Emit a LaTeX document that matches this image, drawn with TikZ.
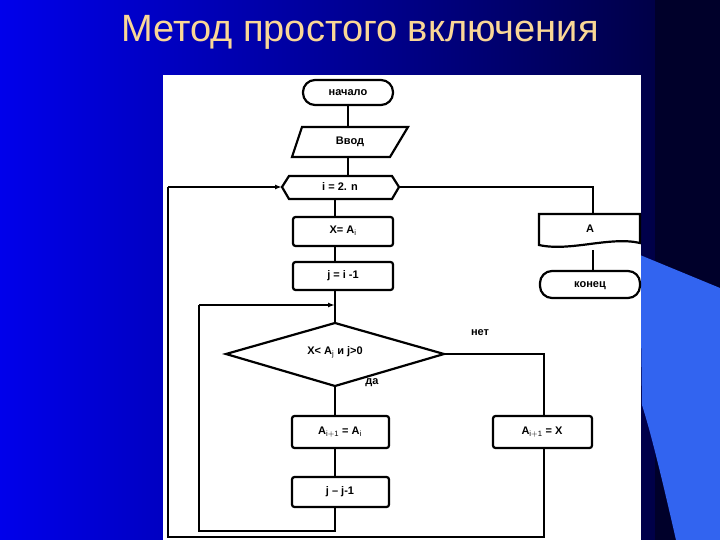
\documentclass[tikz,border=0pt]{standalone}
\usepackage{fontspec}
\setmainfont{Liberation Sans}
\usetikzlibrary{shapes.geometric,shapes.symbols,arrows.meta}
\definecolor{slideblue}{RGB}{0,0,235}
\definecolor{slidedark}{RGB}{0,0,70}
\definecolor{lightb}{RGB}{50,100,240}
\definecolor{titlec}{RGB}{250,215,150}
\tikzset{
  ln/.style={line width=2.2pt,black},
  box/.style={draw,line width=2.2pt,rounded corners=2.5pt,fill=white},
  lab/.style={font=\bfseries\fontsize{11}{12}\selectfont},
  arr/.style={ln,-{Latex[length=7pt,width=5pt]}}
}
\begin{document}
\begin{tikzpicture}[x=1pt,y=-1pt]
\useasboundingbox (0,0) rectangle (720,540);
\shade[left color=slideblue,right color=slidedark] (0,0) rectangle (660,540);
\fill[slidedark!60!black] (655,0) rectangle (720,540);
\fill[lightb] (640,255) -- (720,288) -- (720,540) -- (676,540) .. controls (660,470) and (650,430) .. (642,405) -- cycle;
\node[text=titlec,font=\fontsize{38}{40}\selectfont] (title) at (360,32) {Метод простого включения};
\fill[white] (163,75) rectangle (641,540);
% nodes
\draw[box,rounded corners=12pt] (303,80) rectangle (393,105);
\node[lab] (start) at (348,93) {начало};
\draw[ln,fill=white] (302,127) -- (408,127) -- (390,157) -- (292,157) -- cycle;
\node[lab] (inp) at (350,142) {Ввод};
\draw[ln,fill=white] (282,187) -- (289,176) -- (392,176) -- (399,187) -- (392,199) -- (289,199) -- cycle;
\node[lab] (loop) at (340,187) {i = 2. n};
\draw[box] (293,217) rectangle (393,246);
\node[lab] (xa) at (343,231) {X= A$_{\mathrm{i}}$};
\draw[box] (293,262) rectangle (393,290);
\node[lab] (ji) at (343,276) {j = i -1};
\draw[ln,fill=white] (226,354) -- (335,323) -- (444,354) -- (335,386) -- cycle;
\node[lab] (cond) at (335,352) {X< A$_{\mathrm{j}}$ и j>0};
\draw[box] (292,416) rectangle (389,448);
\node[lab] (sh) at (340,432) {A$_{\mathrm{i+1}}$ = A$_{\mathrm{i}}$};
\draw[box] (292,477) rectangle (389,507);
\node[lab] (jd) at (340,492) {j – j-1};
\draw[box] (493,416) rectangle (592,448);
\node[lab] (ins) at (542,432) {A$_{\mathrm{i+1}}$ = X};
\draw[ln,fill=white] (539,214) -- (640,214) -- (640,243) .. controls (610,236) and (570,252) .. (539,245) -- cycle;
\node[lab] (out) at (590,229) {A};
\draw[box,rounded corners=12pt] (540,271) rectangle (640,298);
\node[lab] (end) at (590,286) {конец};
\node[lab] at (480,333) {нет};
\node[lab] at (372,383) {да};
% connectors
\draw[ln] (348,105) -- (348,127);
\draw[ln] (348,157) -- (348,176);
\draw[ln] (335,199) -- (335,217);
\draw[ln] (335,246) -- (335,262);
\draw[ln] (335,290) -- (335,323);
\draw[ln] (335,386) -- (335,416);
\draw[ln] (335,448) -- (335,477);
\draw[ln] (335,507) -- (335,531) -- (199,531) -- (199,305);
\draw[arr] (199,305) -- (335,305);
\draw[ln] (399,187) -- (593,187) -- (593,214);
\draw[ln] (593,250) -- (593,271);
\draw[ln] (444,354) -- (544,354) -- (544,416);
\draw[ln] (544,448) -- (544,537) -- (168,537) -- (168,187);
\draw[arr] (168,187) -- (282,187);
\end{tikzpicture}
\end{document}
